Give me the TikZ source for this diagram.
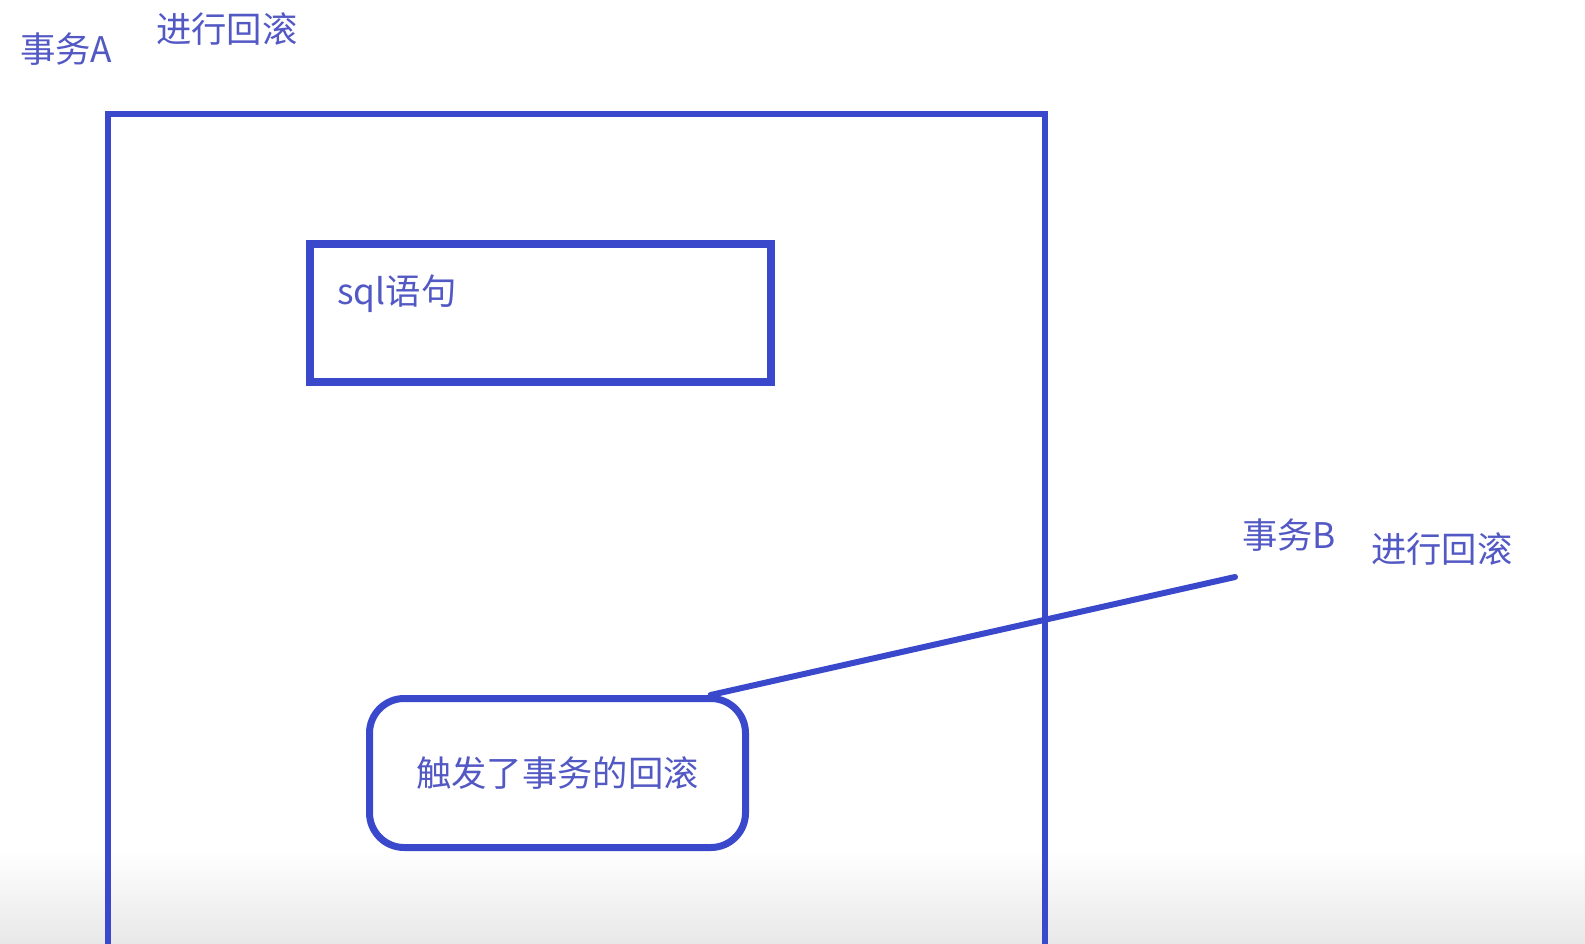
\documentclass[tikz,border=0pt]{standalone}
\usepackage{fontspec}
\setmainfont{Noto Sans CJK SC}
\definecolor{lineblue}{RGB}{58,72,204}
\definecolor{textblue}{RGB}{82,88,196}
\tikzset{
  lbl/.style={text=textblue, font=\fontsize{26.5pt}{30pt}\selectfont, inner sep=0pt, anchor=base west},
  framebox/.style={draw=lineblue, line width=4.6pt},
  sqlbox/.style={draw=lineblue, line width=6pt, fill=white, minimum width=346.1pt, minimum height=103.5pt, inner sep=0pt},
  roundbox/.style={draw=lineblue, line width=5.25pt, fill=white, rounded corners=26pt, minimum width=282pt, minimum height=111.75pt, inner sep=0pt, text=textblue, font=\fontsize{26.5pt}{30pt}\selectfont},
  conn/.style={draw=lineblue, line width=4.5pt, line cap=round}
}
\begin{document}
\begin{tikzpicture}[x=0.75pt, y=-0.75pt]
\useasboundingbox (0,0) rectangle (1585,943);
\clip (0,0) rectangle (1585,943);
\fill[white] (0,0) rectangle (1585,943);
\shade[top color=white, bottom color=black!9] (0,850) rectangle (1585,943);
% outer frame (transaction A), running past the bottom edge
\draw[framebox] (108,1000) -- (108,114) -- (1045,114) -- (1045,1000);
% labels
\node[lbl] (txA) at (20,62) {事务A};
\node[lbl] (rbA) at (156,42) {进行回滚};
\node[lbl] (txB) at (1242,548) {事务B};
\node[lbl] (rbB) at (1371,562) {进行回滚};
% sql box
\node[sqlbox] (sql) at (540.25,312.5) {};
\node[lbl] (sqltxt) at (337,304) {sql语句};
% rollback box
\node[roundbox] (rb) at (557.5,773) {触发了事务的回滚};
% connector
\coordinate (tipB) at (1235,577);
\draw[conn] (tipB) -- (rb.27.7);
\end{tikzpicture}
\end{document}
